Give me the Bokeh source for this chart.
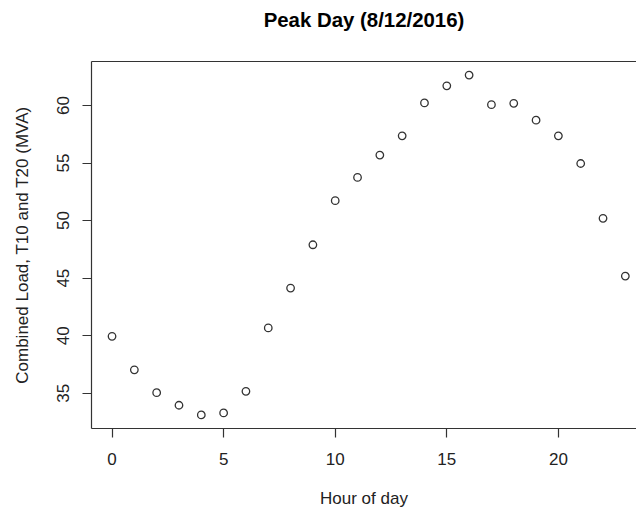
from bokeh.plotting import figure
from bokeh.models import Range1d, FixedTicker, LinearAxis
from bokeh.embed import file_html
from bokeh.resources import INLINE

hours = list(range(24))
load_mva = [39.95, 37.04, 35.05, 33.96, 33.12, 33.29, 35.17, 40.68, 44.14, 47.90,
            51.73, 53.75, 55.69, 57.36, 60.22, 61.71, 62.64, 60.07, 60.19, 58.72,
            57.36, 54.96, 50.20, 45.18]
x_ticks = [0, 5, 10, 15, 20]
y_ticks = [35, 40, 45, 50, 55, 60]
title_text = "Peak Day (8/12/2016)"

FONT = "Liberation Sans"
INK = "#222222"

ymin, ymax = min(load_mva), max(load_mva)
ypad = 0.04 * (ymax - ymin)
y0, y1 = ymin - ypad, ymax + ypad
xpad = 0.04 * (max(hours) - min(hours))

p = figure(width=636, height=512, output_backend="svg", toolbar_location=None,
           x_range=Range1d(min(hours) - xpad, 23.5), y_range=Range1d(y0, y1),
           min_border_left=91, min_border_right=0, min_border_top=61,
           min_border_bottom=84)

p.outline_line_color = None
p.background_fill_color = "white"
p.border_fill_color = "white"
p.xgrid.visible = False
p.ygrid.visible = False

p.scatter(hours, load_mva, marker="circle", size=7.5, fill_color=None,
          line_color="#333333", line_width=1.3)

for ax in (p.xaxis[0], p.yaxis[0]):
    ax.axis_line_color = "#333333"
    ax.axis_line_width = 1.2
    ax.major_tick_line_color = "#333333"
    ax.major_tick_line_width = 1.2
    ax.major_tick_out = 9
    ax.major_tick_in = 0
    ax.minor_tick_out = 0
    ax.minor_tick_in = 0
    ax.major_label_text_font = FONT
    ax.major_label_text_font_size = "17px"
    ax.major_label_text_color = INK
    ax.axis_label_text_font = FONT
    ax.axis_label_text_font_size = "17px"
    ax.axis_label_text_font_style = "normal"
    ax.axis_label_text_color = INK

p.xaxis.ticker = FixedTicker(ticks=x_ticks)
p.yaxis.ticker = FixedTicker(ticks=y_ticks)
p.xaxis.axis_label = "Hour of day"
p.yaxis.axis_label = "Combined Load, T10 and T20 (MVA)"
p.yaxis.major_label_orientation = "vertical"
p.xaxis.major_label_standoff = 15
p.xaxis.axis_label_standoff = 21
p.yaxis.major_label_standoff = 13
p.yaxis.axis_label_standoff = 23

# top border of the box, carrying the chart title
top = LinearAxis(ticker=FixedTicker(ticks=[]), axis_label=title_text)
top.axis_line_color = "#333333"
top.axis_line_width = 1.2
top.major_tick_out = 0
top.major_tick_in = 0
top.minor_tick_out = 0
top.minor_tick_in = 0
top.major_label_text_font_size = "0px"
top.axis_label_text_font = FONT
top.axis_label_text_font_size = "20.4px"
top.axis_label_text_font_style = "bold"
top.axis_label_text_color = "black"
top.axis_label_standoff = 31
p.add_layout(top, "above")

open("out.html", "w").write(file_html(p, INLINE))
